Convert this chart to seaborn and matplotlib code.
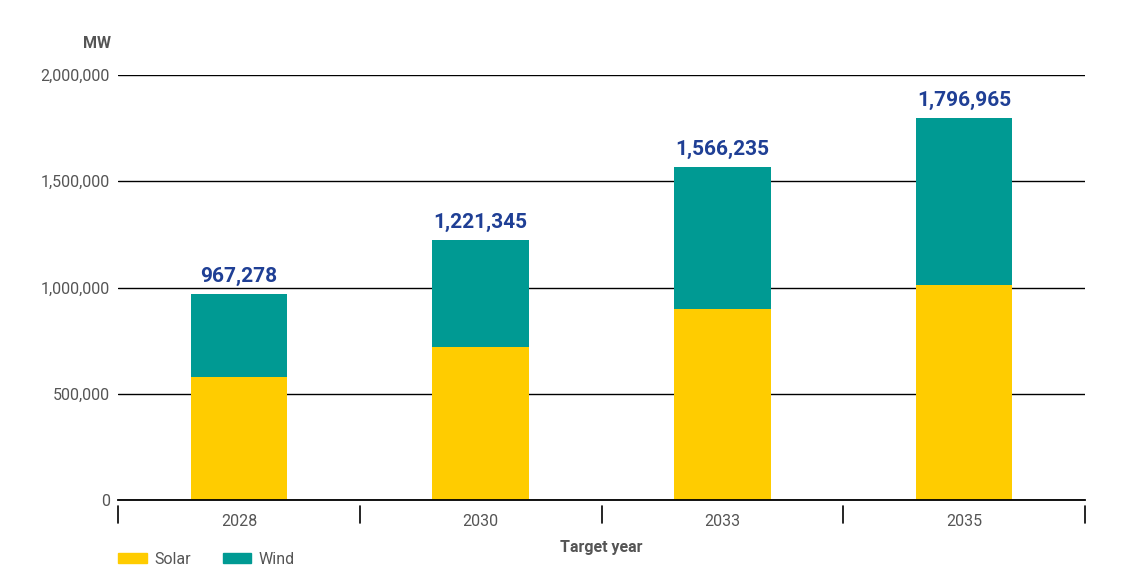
import matplotlib
matplotlib.use("Agg")
import matplotlib.pyplot as plt
import matplotlib.patches as mpatches
import seaborn as sns
import pandas as pd
from matplotlib.ticker import FuncFormatter, MultipleLocator

years = ["2028", "2030", "2033", "2035"]
solar = [579000, 720000, 899000, 1012000]
wind = [388278, 501345, 667235, 784965]
totals = [s + w for s, w in zip(solar, wind)]

SOLAR_C = "#FFCC00"
WIND_C = "#009A93"
LABEL_C = "#1F3F95"
TEXT_C = "#555555"

sns.set_theme(style="white")
plt.rcParams["font.family"] = ["Roboto", "DejaVu Sans"]

df = pd.DataFrame({"year": years, "solar": solar, "wind": wind, "total": totals})

fig = plt.figure(figsize=(11.29, 5.83), dpi=100)
ax = fig.add_axes([118 / 1129, 83 / 583, (1085 - 118) / 1129, 425 / 583])

sns.barplot(data=df, x="year", y="total", color=WIND_C, width=0.4, ax=ax,
            saturation=1, linewidth=0)
sns.barplot(data=df, x="year", y="solar", color=SOLAR_C, width=0.4, ax=ax,
            saturation=1, linewidth=0)

ax.set_ylim(0, 2_000_000)
ax.set_xlim(-0.5, len(years) - 0.5)
ax.yaxis.set_major_locator(MultipleLocator(500_000))
ax.yaxis.set_major_formatter(FuncFormatter(lambda v, p: f"{int(v):,}"))
ax.grid(axis="y", color="black", linewidth=1.0)
ax.set_axisbelow(True)
for s in ["top", "right", "left"]:
    ax.spines[s].set_visible(False)
ax.spines["bottom"].set_color("black")
ax.spines["bottom"].set_linewidth(1.3)
ax.tick_params(axis="y", length=0, pad=6, labelsize=11.5, labelcolor=TEXT_C)
ax.tick_params(axis="x", length=0, pad=10, labelsize=11.5, labelcolor=TEXT_C)
ax.set_ylabel("")
ax.set_xlabel("Target year", fontsize=11.5, fontweight="bold", color=TEXT_C, labelpad=8)

# category separators below axis
trans = ax.get_xaxis_transform()
for b in [i - 0.5 for i in range(len(years) + 1)]:
    ax.plot([b, b], [-6 / 425, -23 / 425], transform=trans, color="black", lw=1.2, clip_on=False)

for i, t in enumerate(totals):
    ax.text(i, t + 38_000, f"{t:,}", ha="center", va="bottom", fontsize=15,
            fontweight="bold", color=LABEL_C)

fig.text(111 / 1129, 1 - 43 / 583, "MW", ha="right", va="center", fontsize=11.5,
         fontweight="bold", color=TEXT_C)

handles = [mpatches.Patch(color=SOLAR_C, label="Solar"), mpatches.Patch(color=WIND_C, label="Wind")]
fig.legend(handles=handles, loc="center left", bbox_to_anchor=(118 / 1129, 24 / 583), ncol=2,
           frameon=False, fontsize=11.5, handlelength=1.8, handleheight=0.6,
           columnspacing=2.0, handletextpad=0.45, labelcolor=TEXT_C,
           borderpad=0, borderaxespad=0)

fig.savefig("out.png", dpi=100)
